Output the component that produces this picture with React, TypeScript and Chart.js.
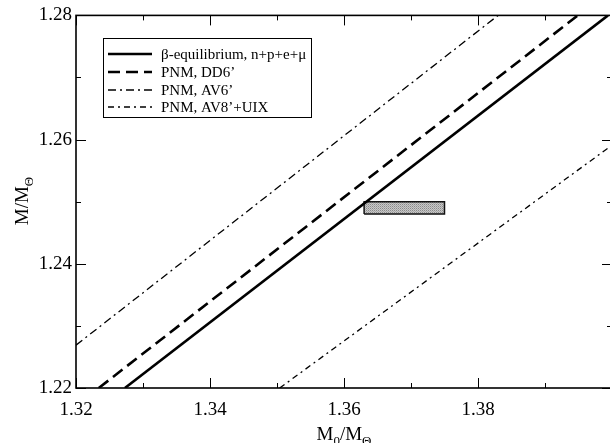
import React, { useEffect, useRef } from 'react';
import { Chart, registerables } from 'chart.js';

Chart.register(...registerables);

// ---- data ----
const xTicks = [1.32, 1.34, 1.36, 1.38];
const xMinor = [1.33, 1.35, 1.37, 1.39];
const yTicks = [1.22, 1.24, 1.26, 1.28];
const yMinor = [1.23, 1.25, 1.27];

const legendLabels = [
  'β-equilibrium, n+p+e+μ',
  'PNM, DD6’',
  'PNM, AV6’',
  'PNM, AV8’+UIX',
];

const betaX = [1.3273, 1.3994];
const betaY = [1.22, 1.28];
const dd6X = [1.3234, 1.3949];
const dd6Y = [1.22, 1.28];
const av6X = [1.32, 1.383];
const av6Y = [1.2269, 1.28];
const av8X = [1.3504, 1.4];
const av8Y = [1.22, 1.2591];

const boxX = [1.363, 1.375, 1.375, 1.363, 1.363];
const boxY = [1.248, 1.248, 1.25, 1.25, 1.248];

const pts = (xs: number[], ys: number[]) => xs.map((x, i) => ({ x, y: ys[i] }));

const SERIF = '"Liberation Serif", "Times New Roman", serif';

function makePattern(ctx: CanvasRenderingContext2D) {
  const c = document.createElement('canvas');
  c.width = 2;
  c.height = 2;
  const p = c.getContext('2d')!;
  p.fillStyle = '#c8c8c8';
  p.fillRect(0, 0, 2, 2);
  p.fillStyle = '#8a8a8a';
  p.fillRect(0, 0, 1, 1);
  p.fillStyle = '#a8a8a8';
  p.fillRect(1, 1, 1, 1);
  return ctx.createPattern(c, 'repeat');
}

const decor = {
  id: 'decor',
  afterDatasetsDraw(chart: any) {
    const ctx: CanvasRenderingContext2D = chart.ctx;
    const { left, right, top, bottom } = chart.chartArea;
    const xs = chart.scales.x;
    const ys = chart.scales.y;
    ctx.save();
    ctx.strokeStyle = '#000';
    ctx.lineWidth = 1;
    ctx.beginPath();
    const xt = (vals: number[], len: number) => {
      vals.forEach((v) => {
        const px = Math.round(xs.getPixelForValue(v)) + 0.5;
        ctx.moveTo(px, bottom);
        ctx.lineTo(px, bottom - len);
        ctx.moveTo(px, top);
        ctx.lineTo(px, top + len);
      });
    };
    const yt = (vals: number[], len: number) => {
      vals.forEach((v) => {
        const py = Math.round(ys.getPixelForValue(v)) + 0.5;
        ctx.moveTo(left, py);
        ctx.lineTo(left + len, py);
        ctx.moveTo(right, py);
        ctx.lineTo(right - len, py);
      });
    };
    xt(xTicks, 10);
    xt(xMinor, 5);
    yt(yTicks, 10);
    yt(yMinor, 5);
    ctx.stroke();
    ctx.lineWidth = 1.6;
    ctx.strokeRect(left, top, right - left, bottom - top);
    ctx.restore();
  },
  afterDraw(chart: any) {
    const ctx: CanvasRenderingContext2D = chart.ctx;
    const { left, right } = chart.chartArea;
    ctx.save();
    ctx.fillStyle = '#000';
    ctx.strokeStyle = '#000';

    // x title: M0/MΘ
    const big = `19px ${SERIF}`;
    const sub = `13px ${SERIF}`;
    const parts: [string, boolean][] = [['M', false], ['0', true], ['/M', false], ['Θ', true]];
    const widthOf = (ps: [string, boolean][]) =>
      ps.reduce((w, [t, s]) => {
        ctx.font = s ? sub : big;
        return w + ctx.measureText(t).width;
      }, 0);
    const drawParts = (ps: [string, boolean][], x0: number, y0: number) => {
      let x = x0;
      ctx.textAlign = 'left';
      ctx.textBaseline = 'alphabetic';
      ps.forEach(([t, s]) => {
        ctx.font = s ? sub : big;
        ctx.fillText(t, x, s ? y0 + 5 : y0);
        x += ctx.measureText(t).width;
      });
    };
    const w = widthOf(parts);
    drawParts(parts, (left + right) / 2 - w / 2, 440);

    // y title: M/MΘ
    const yparts: [string, boolean][] = [['M/M', false], ['Θ', true]];
    const wy = widthOf(yparts);
    ctx.save();
    ctx.translate(28, 201);
    ctx.rotate(-Math.PI / 2);
    drawParts(yparts, -wy / 2, 0);
    ctx.restore();

    // legend
    const bx = 103.5, by = 38.5, bw = 208, bh = 79;
    ctx.fillStyle = '#fff';
    ctx.fillRect(bx, by, bw, bh);
    ctx.lineWidth = 1;
    ctx.strokeRect(bx, by, bw, bh);
    const rows = [54, 72, 90, 107];
    ctx.font = `15px ${SERIF}`;
    ctx.textBaseline = 'middle';
    ctx.textAlign = 'left';
    legendLabels.forEach((lab, i) => {
      const ds = chart.data.datasets[i];
      ctx.beginPath();
      ctx.lineWidth = ds.borderWidth;
      ctx.setLineDash(ds.borderDash || []);
      ctx.moveTo(108, rows[i]);
      ctx.lineTo(152, rows[i]);
      ctx.stroke();
      ctx.setLineDash([]);
      ctx.fillStyle = '#000';
      ctx.fillText(lab, 161, rows[i] + 1);
    });
    ctx.restore();
  },
};

export default function App() {
  const ref = useRef<HTMLCanvasElement>(null);
  useEffect(() => {
    const canvas = ref.current!;
    const ctx = canvas.getContext('2d')!;
    const pattern = makePattern(ctx);
    const lineBase = { borderColor: '#000', pointRadius: 0, fill: false, tension: 0 };
    const chart = new Chart(ctx, {
      type: 'line',
      data: {
        datasets: [
          { ...lineBase, label: legendLabels[0], data: pts(betaX, betaY), borderWidth: 2.6, borderDash: [] },
          { ...lineBase, label: legendLabels[1], data: pts(dd6X, dd6Y), borderWidth: 2.6, borderDash: [12, 6] },
          { ...lineBase, label: legendLabels[2], data: pts(av6X, av6Y), borderWidth: 1.3, borderDash: [8, 4, 2, 4] },
          { ...lineBase, label: legendLabels[3], data: pts(av8X, av8Y), borderWidth: 1.3, borderDash: [6, 4, 2, 4] },
          {
            label: 'box',
            data: pts(boxX, boxY),
            borderColor: '#111',
            borderWidth: 1.5,
            pointRadius: 0,
            tension: 0,
            backgroundColor: pattern as any,
            fill: 'shape',
          } as any,
        ],
      },
      options: {
        responsive: false,
        animation: false,
        events: [],
        layout: { padding: { top: 14, right: 2, left: 0, bottom: 0 } },
        plugins: { legend: { display: false }, tooltip: { enabled: false }, title: { display: false } },
        scales: {
          x: {
            type: 'linear',
            min: 1.32,
            max: 1.4,
            grid: { display: false, drawTicks: false },
            border: { display: false },
            ticks: {
              padding: 11,
              color: '#000',
              font: { family: SERIF, size: 19 },
              callback: (v: any) => Number(v).toFixed(2),
            },
            afterBuildTicks: (s: any) => {
              s.ticks = xTicks.map((v) => ({ value: v }));
            },
            afterFit: (s: any) => {
              s.height = 55;
            },
          },
          y: {
            type: 'linear',
            min: 1.22,
            max: 1.28,
            grid: { display: false, drawTicks: false },
            border: { display: false },
            ticks: {
              padding: 4,
              color: '#000',
              font: { family: SERIF, size: 19 },
              callback: (v: any) => Number(v).toFixed(2),
            },
            afterBuildTicks: (s: any) => {
              s.ticks = yTicks.map((v) => ({ value: v }));
            },
            afterFit: (s: any) => {
              s.width = 76;
            },
          },
        },
      },
      plugins: [decor],
    });
    return () => chart.destroy();
  }, []);
  return (
    <div style={{ position: 'fixed', left: 0, top: 0, width: 610, height: 443, overflow: 'hidden', background: '#fff' }}>
      <canvas ref={ref} width={614} height={443} style={{ display: 'block', width: 614, height: 443 }} />
    </div>
  );
}
